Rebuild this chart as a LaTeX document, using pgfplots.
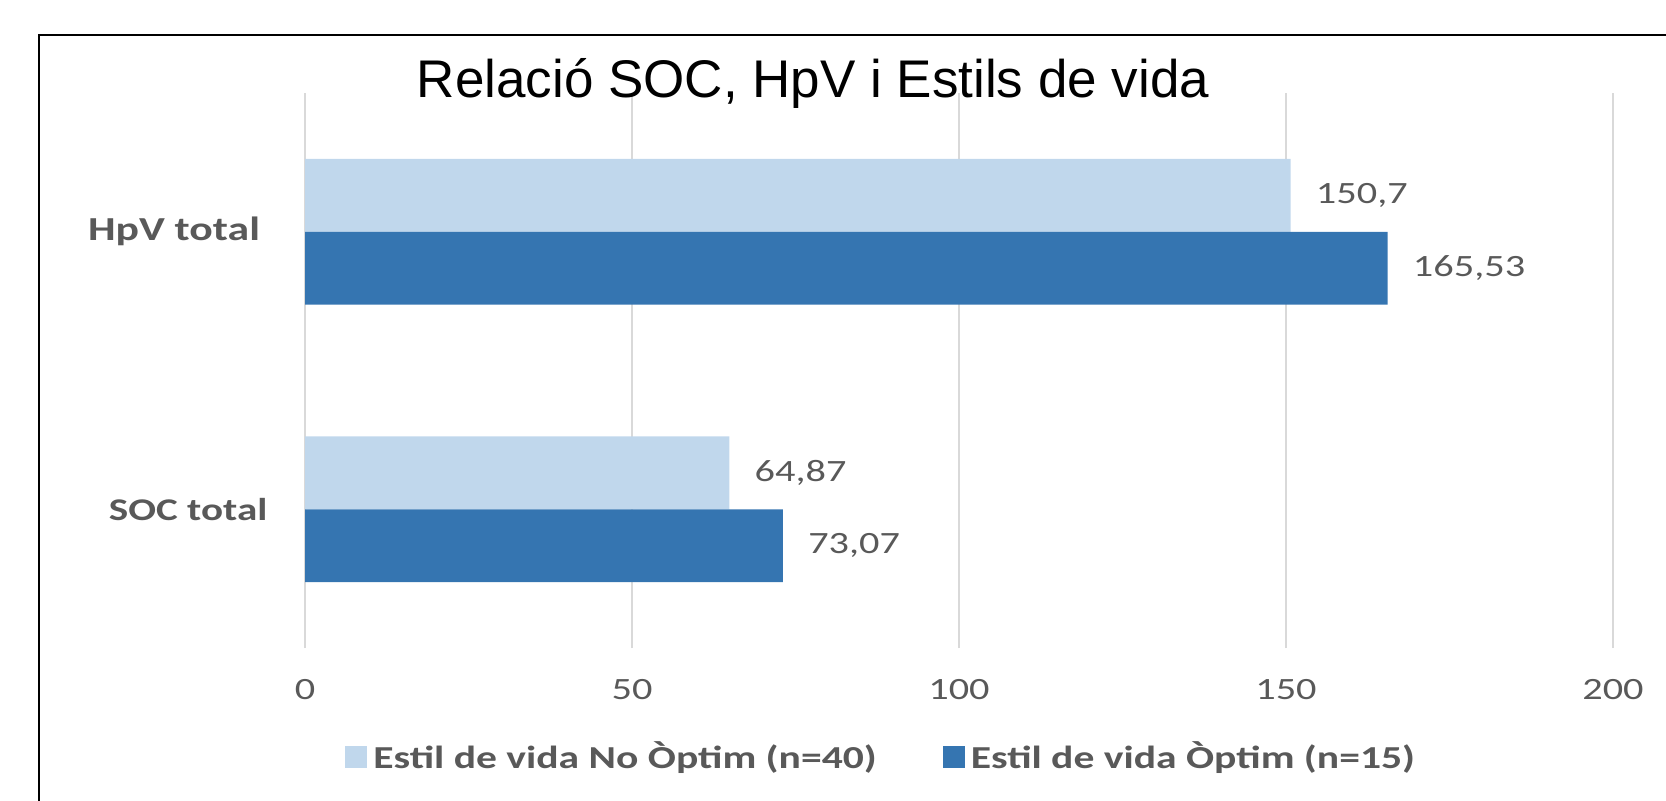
\documentclass[border=0pt]{standalone}
\usepackage{pgfplots}
\pgfplotsset{compat=1.18}
\usepackage{fontspec}
\setmainfont{Carlito}[FakeStretch=1.3]
\newfontfamily\titlefont{Liberation Sans}
\definecolor{lightbar}{HTML}{C0D7EC}
\definecolor{darkbar}{HTML}{3575B1}
\definecolor{txtgray}{HTML}{595959}
\definecolor{gridgray}{HTML}{D9D9D9}
\begin{document}
\begin{tikzpicture}
\useasboundingbox (0,0) rectangle (833pt,400pt);
\begin{axis}[
  at={(152.5pt,76pt)}, anchor=south west,
  scale only axis, width=654pt, height=277.5pt,
  xbar, bar width=0.263,
  xmin=0, xmax=200, xtick={0,50,100,150,200},
  ymin=-0.5, ymax=1.5, ytick={0,1},
  yticklabels={SOC total\kern-3.7pt, {\fontsize{16.8}{18}\selectfont HpV total}},
  xmajorgrids, grid style={draw=gridgray, line width=1.2pt},
  axis line style={draw=none}, major tick length=0pt,
  /pgf/number format/assume math mode=true,
  xticklabel style={anchor=center, yshift=-21pt, font=\fontsize{15.5}{18}\selectfont, text=txtgray},
  yticklabel style={anchor=east, xshift=-19pt, font=\fontsize{15.8}{18}\selectfont\bfseries, text=txtgray},
  point meta=x,
  nodes near coords={\pgfmathprintnumber[use comma,fixed,precision=2]{\pgfplotspointmeta}},
  every node near coord/.append style={anchor=west, inner sep=0pt, xshift=12.5pt, font=\fontsize{15.5}{18}\selectfont, text=txtgray},
  legend columns=2,
  legend style={at={(0.0306,-0.196)}, anchor=west, draw=none, fill=none, inner sep=0pt,
    font=\fontsize{16}{18}\selectfont\bfseries, text=txtgray,
    /tikz/every odd column/.append style={column sep=3pt},
    /tikz/every even column/.append style={column sep=33pt},
    nodes={inner sep=0pt}},
  legend cell align=left,
  legend image code/.code={\fill[#1] (0pt,-5.5pt) rectangle (11pt,5.5pt);},
]
\addplot[fill=lightbar, draw=none, bar shift=0.1315] coordinates {(64.87,0) (150.7,1)};
\addlegendentry{Estil de vida No Òptim (n=40)}
\addplot[fill=darkbar, draw=none, bar shift=-0.1315] coordinates {(73.07,0) (165.53,1)};
\addlegendentry{Estil de vida Òptim (n=15)}
\end{axis}
\draw[line width=1pt] (19.5pt,-2pt) -- (19.5pt,382.5pt) -- (836pt,382.5pt);
\node[anchor=base, inner sep=0pt, font=\titlefont\fontsize{26.5}{30}\selectfont] at (406.5pt,351pt) {Relació SOC, HpV i Estils de vida};
\end{tikzpicture}
\end{document}
